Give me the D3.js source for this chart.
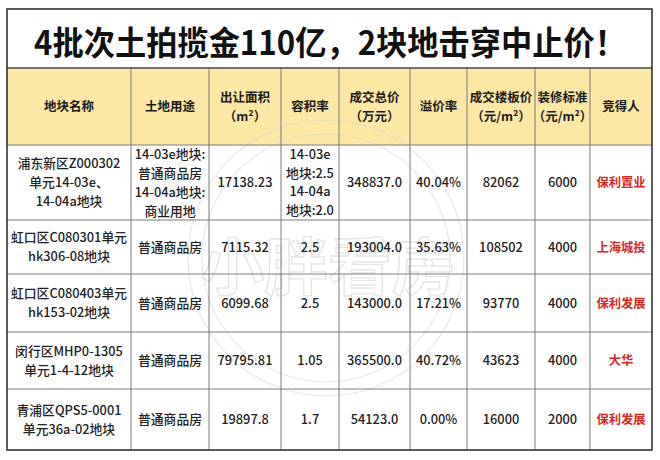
<!DOCTYPE html>
<html><head><meta charset="utf-8">
<script src="https://cdn.jsdelivr.net/npm/d3@7/dist/d3.min.js"></script>
<style>
html,body{margin:0;padding:0;background:#fff;}
svg{display:block;font-family:"Noto Sans CJK SC","Noto Sans",sans-serif;}
</style></head>
<body>
<svg id="chart" width="660" height="460"></svg>
<script>
const title = "4批次土拍揽金110亿，2块地击穿中止价！";
const headers = [["地块名称"],["土地用途"],["出让面积","（m²）"],["容积率"],["成交总价","（万元）"],["溢价率"],["成交楼板价","（元/m²）"],["装修标准","（元/m²）"],["竞得人"]];
const parcelNames = [["浦东新区Z000302","单元14-03e、","14-04a地块"],["虹口区C080301单元","hk306-08地块"],["虹口区C080403单元","hk153-02地块"],["闵行区MHP0-1305","单元1-4-12地块"],["青浦区QPS5-0001","单元36a-02地块"]];
const landUses = [["14-03e地块:","普通商品房","14-04a地块:","商业用地"],["普通商品房"],["普通商品房"],["普通商品房"],["普通商品房"]];
const areas = ["17138.23","7115.32","6099.68","79795.81","19897.8"];
const plotRatios = [["14-03e","地块:2.5","14-04a","地块:2.0"],["2.5"],["2.5"],["1.05"],["1.7"]];
const totalPrices = ["348837.0","193004.0","143000.0","365500.0","54123.0"];
const premiums = ["40.04%","35.63%","17.21%","40.72%","0.00%"];
const floorPrices = ["82062","108502","93770","43623","16000"];
const decoration = ["6000","4000","4000","4000","2000"];
const winners = ["保利置业","上海城投","保利发展","大华","保利发展"];

// layout
const colEdges = [7,131,209,281,339,410,467,535,590,652];
const rowEdges = [9,68,145,220,274,332,389,450];

const svg = d3.select("#chart");
const nCols = headers.length;
const xEdge = d3.scaleOrdinal().domain(d3.range(nCols+1)).range(colEdges);
const yEdge = d3.scaleOrdinal().domain(d3.range(rowEdges.length)).range(rowEdges);

// header background
svg.append("rect").attr("x",xEdge(0)).attr("y",yEdge(1))
  .attr("width",xEdge(nCols)-xEdge(0)).attr("height",yEdge(2)-yEdge(1))
  .attr("fill","#fce7a5");

// watermark
const wm = svg.append("g").attr("opacity",0.55);
[138,124].forEach(r=>wm.append("circle").attr("cx",326).attr("cy",258).attr("r",r)
  .attr("fill","none").attr("stroke","#d6d6d6").attr("stroke-width",1.2));
wm.append("text").attr("x",328).attr("y",290).attr("text-anchor","middle")
  .attr("font-size",62).attr("font-weight",700).attr("fill","#ffffff").attr("fill-opacity",0.6)
  .attr("stroke","#cfcfcf").attr("stroke-width",1.3)
  .attr("textLength",255).attr("lengthAdjust","spacingAndGlyphs").text("小胖看房");

// title
svg.append("text").attr("x",330).attr("y",55).attr("text-anchor","middle")
  .attr("font-size",33).attr("font-weight",700).attr("fill","#111")
  .attr("textLength",592).attr("lengthAdjust","spacingAndGlyphs").text(title);

function cellText(col,row,lines,opts={}){
  const cx=(xEdge(col)+xEdge(col+1))/2, cy=(yEdge(row)+yEdge(row+1))/2;
  const lh = opts.lh||19;
  const t = svg.append("text").attr("text-anchor","middle")
    .attr("font-size",opts.size||12.5).attr("font-weight",opts.weight||400)
    .attr("fill",opts.fill||"#222");
  lines.forEach((l,i)=>{
    t.append("tspan").attr("x",cx).attr("y",cy+(i-(lines.length-1)/2)*lh+4.5).text(l);
  });
}

headers.forEach((h,c)=>cellText(c,1,h,{weight:700,size:12.5,fill:"#1a1a1a"}));
const columns = [parcelNames,landUses,areas,plotRatios,totalPrices,premiums,floorPrices,decoration,winners];
columns.forEach((col,c)=>{
  col.forEach((v,r)=>{
    const lines = Array.isArray(v)?v:[v];
    const isWinner = c===nCols-1;
    cellText(c,r+2,lines,{
      weight: isWinner?700:500,
      fill: isWinner?"#d42a26":"#222",
      size: isWinner?12.3:12.8,
      lh: c===3?18.7:19
    });
  });
});

// grid lines
const grid = svg.append("g").attr("stroke","#7a7a7a").attr("stroke-width",1);
d3.range(2,rowEdges.length-1).forEach(i=>grid.append("line")
  .attr("x1",xEdge(0)).attr("x2",xEdge(nCols)).attr("y1",yEdge(i)).attr("y2",yEdge(i)));
d3.range(1,nCols).forEach(i=>grid.append("line")
  .attr("x1",xEdge(i)).attr("x2",xEdge(i)).attr("y1",yEdge(1)).attr("y2",yEdge(rowEdges.length-1)));
svg.append("line").attr("x1",xEdge(0)).attr("x2",xEdge(nCols)).attr("y1",yEdge(1)).attr("y2",yEdge(1))
  .attr("stroke","#444").attr("stroke-width",1.3);
svg.append("rect").attr("x",xEdge(0)).attr("y",yEdge(0))
  .attr("width",xEdge(nCols)-xEdge(0)).attr("height",yEdge(rowEdges.length-1)-yEdge(0))
  .attr("fill","none").attr("stroke","#333").attr("stroke-width",1.6);
</script>
</body></html>
